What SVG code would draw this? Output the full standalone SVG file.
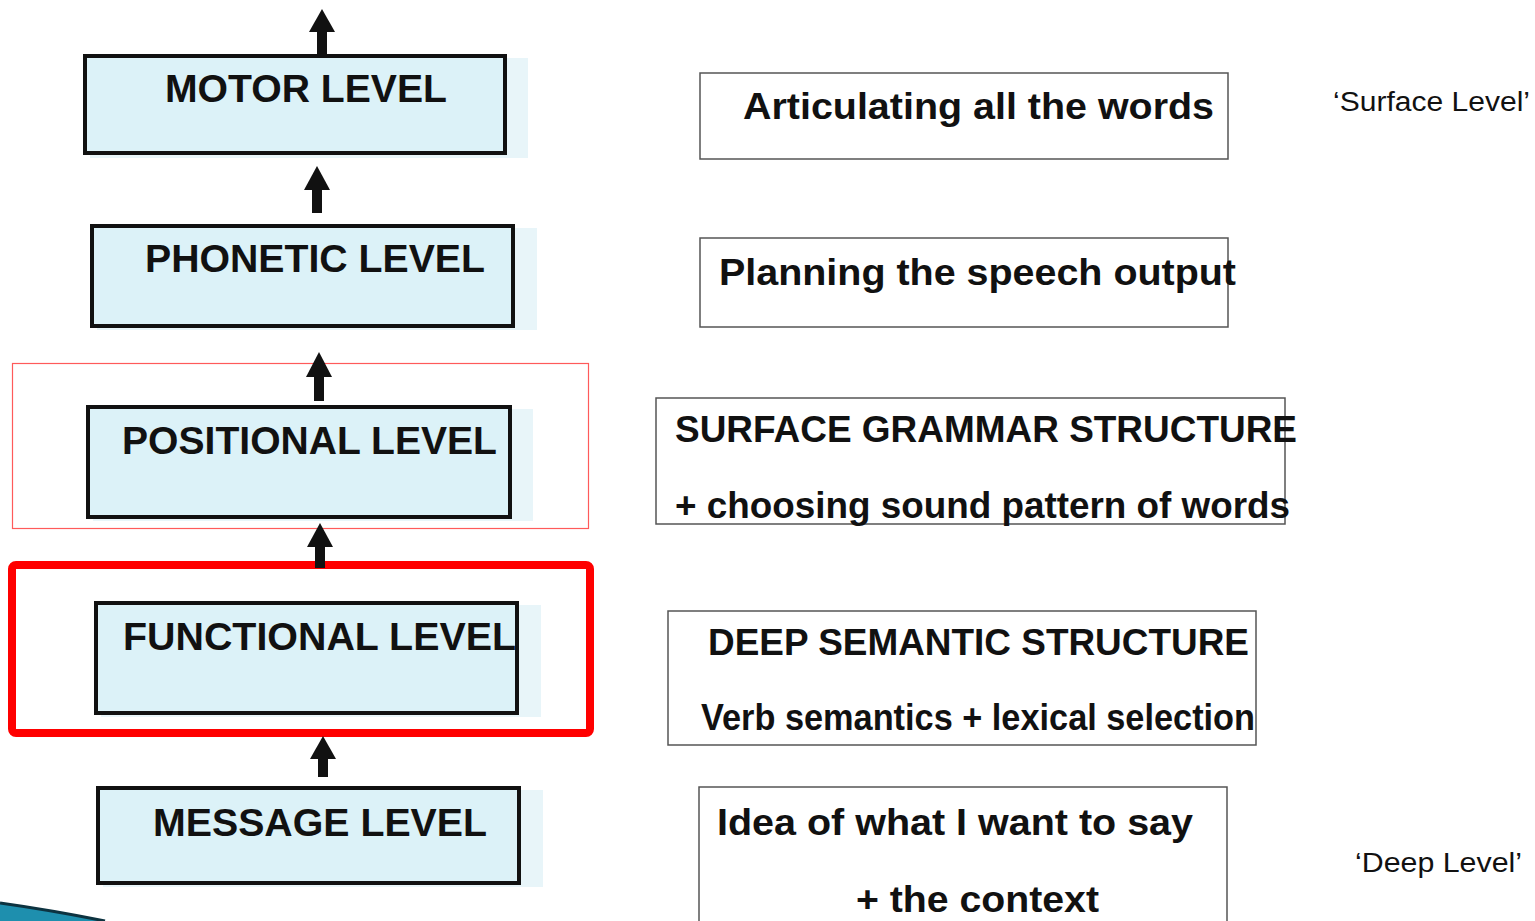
<svg xmlns="http://www.w3.org/2000/svg" width="1535" height="921" viewBox="0 0 1535 921">
<defs>
<style>
.lvl rect.box{fill:#dcf2f8;stroke:#111;stroke-width:4}
.lvl rect.sh{fill:#e8f5f9}
.lvl text{font-family:"Liberation Sans",Arial,sans-serif;font-weight:bold;font-size:38px;fill:#111}
.desc rect{fill:#fff;stroke:#555;stroke-width:1.5}
.desc text{font-family:"Liberation Sans",Arial,sans-serif;font-weight:bold;font-size:36px;fill:#111}
.side{font-family:"Liberation Sans",Arial,sans-serif;font-size:27px;fill:#111}
.arr line{stroke:#111;stroke-width:10}
.arr polygon{fill:#111}
</style>
</defs>
<rect width="1535" height="921" fill="#fff"/>
<!-- bottom-left swoosh -->
<path d="M0,903 Q50,910 105,921 L0,921 Z" fill="#1e8fae"/>
<path d="M0,903 Q50,910 105,921" fill="none" stroke="#0d3340" stroke-width="3"/>

<g id="highlight-thin"><rect x="12.5" y="363.5" width="576" height="165" fill="none" stroke="#ff5a5a" stroke-width="1.2"/></g>

<g id="motor" class="lvl">
<rect class="sh" x="90" y="58" width="438" height="100"/>
<rect class="box" x="85" y="56" width="420" height="97"/>
<text x="165" y="102" textLength="282" lengthAdjust="spacingAndGlyphs">MOTOR LEVEL</text>
</g>
<g id="phonetic" class="lvl">
<rect class="sh" x="97" y="228" width="440" height="102"/>
<rect class="box" x="92" y="226" width="421" height="100"/>
<text x="145" y="272" textLength="340" lengthAdjust="spacingAndGlyphs">PHONETIC LEVEL</text>
</g>
<g id="positional" class="lvl">
<rect class="sh" x="93" y="409" width="440" height="112"/>
<rect class="box" x="88" y="407" width="422" height="110"/>
<text x="122" y="454" textLength="375" lengthAdjust="spacingAndGlyphs">POSITIONAL LEVEL</text>
</g>
<g id="functional" class="lvl">
<rect class="sh" x="101" y="605" width="440" height="112"/>
<rect class="box" x="96" y="603" width="421" height="110"/>
<text x="123" y="650" textLength="393" lengthAdjust="spacingAndGlyphs">FUNCTIONAL LEVEL</text>
</g>
<g id="message" class="lvl">
<rect class="sh" x="103" y="790" width="440" height="97"/>
<rect class="box" x="98" y="788" width="421" height="95"/>
<text x="153" y="836" textLength="334" lengthAdjust="spacingAndGlyphs">MESSAGE LEVEL</text>
</g>

<g id="highlight-thick"><rect x="12" y="565" width="578" height="168" rx="4" fill="none" stroke="#ff0000" stroke-width="8"/></g>

<g id="connectors" class="arr">
<line x1="322" y1="56" x2="322" y2="30"/><polygon points="322,9 309,32 335,32"/>
<line x1="317" y1="213" x2="317" y2="188"/><polygon points="317,166 304,190 330,190"/>
<line x1="319" y1="401" x2="319" y2="375"/><polygon points="319,352 306,377 332,377"/>
<line x1="320" y1="568" x2="320" y2="545"/><polygon points="320,523 307,547 333,547"/>
<line x1="323" y1="777" x2="323" y2="757"/><polygon points="323,736 310,759 336,759"/>
</g>

<g id="d-articulating" class="desc">
<rect x="700" y="73" width="528" height="86"/>
<text x="743" y="119" textLength="471" lengthAdjust="spacingAndGlyphs">Articulating all the words</text>
</g>
<g id="d-planning" class="desc">
<rect x="700" y="238" width="528" height="89"/>
<text x="719" y="285" textLength="517" lengthAdjust="spacingAndGlyphs">Planning the speech output</text>
</g>
<g id="d-surface" class="desc">
<rect x="656" y="398" width="629" height="126"/>
<text x="675" y="442" textLength="622" lengthAdjust="spacingAndGlyphs">SURFACE GRAMMAR STRUCTURE</text>
<text x="675" y="518" textLength="615" lengthAdjust="spacingAndGlyphs">+ choosing sound pattern of words</text>
</g>
<g id="d-deep" class="desc">
<rect x="668" y="611" width="588" height="134"/>
<text x="708" y="655" textLength="541" lengthAdjust="spacingAndGlyphs">DEEP SEMANTIC STRUCTURE</text>
<text x="701" y="730" textLength="554" lengthAdjust="spacingAndGlyphs">Verb semantics + lexical selection</text>
</g>
<g id="d-idea" class="desc">
<rect x="699" y="787" width="528" height="140"/>
<text x="717" y="835" textLength="476" lengthAdjust="spacingAndGlyphs">Idea of what I want to say</text>
<text x="856" y="912" textLength="243" lengthAdjust="spacingAndGlyphs">+ the context</text>
</g>

<g id="labels">
<text class="side" x="1333" y="111" textLength="197" lengthAdjust="spacingAndGlyphs">‘Surface Level’</text>
<text class="side" x="1355" y="872" textLength="167" lengthAdjust="spacingAndGlyphs">‘Deep Level’</text>
</g>
</svg>
